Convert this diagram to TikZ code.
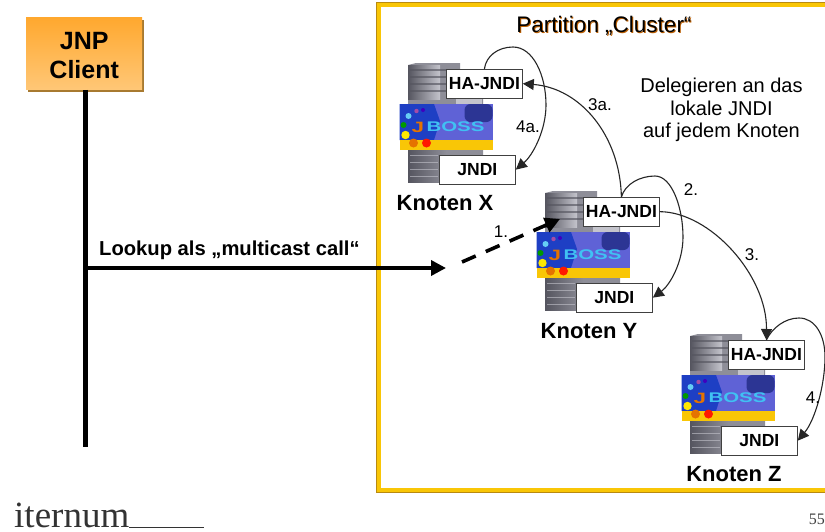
\documentclass[tikz,border=0pt]{standalone}
\usepackage{fontspec}
\usepackage{graphicx}
\setmainfont{Liberation Sans}
\newfontfamily\serifface{Liberation Serif}
\usetikzlibrary{arrows.meta,shadings}
\definecolor{frameyellow}{HTML}{F9C606}
\definecolor{frameedge}{HTML}{B98A10}
\definecolor{logodeep}{HTML}{1E3FC4}
\definecolor{logopurple}{HTML}{5F62D6}
\definecolor{logodark}{HTML}{2C3594}
\definecolor{towerdark}{HTML}{55555F}
\definecolor{towermid}{HTML}{8E8E98}
\definecolor{towerlight}{HTML}{C4C4CC}
\definecolor{clienttop}{HTML}{FFA82E}
\definecolor{clientbottom}{HTML}{FFC777}
\definecolor{clientshadow}{HTML}{A87A30}
\tikzset{
  x=1pt,y=-1pt,
  hostbox/.style={draw=black!75,line width=0.8pt,fill=white,minimum width=76pt,minimum height=28.5pt,inner sep=0pt,font=\fontsize{17.5}{17.5}\selectfont\bfseries},
  hostname/.style={font=\fontsize{22}{22}\selectfont\bfseries,inner sep=0pt},
  steplabel/.style={font=\fontsize{17}{17}\selectfont,inner sep=0pt},
  curvearrow/.style={draw=black!85,line width=1.1pt,-{Triangle[length=11pt,width=11pt]}},
  thick line/.style={line width=5pt,black},
}
% #1 suffix, #2 x and #3 y of the top-left corner of the HA-JNDI box, #4 x offset of the name
\newcommand{\knoten}[4]{%
  \begin{scope}[shift={(#2,#3)}]
    % server tower
    \fill[towermid] (-38,-4) -- (-30,-6) -- (14,-6) -- (14,0) -- (37,29) -- (37,113) -- (-38,113) -- cycle;
    \shade[left color=towerdark,right color=towerlight] (-38,-4) rectangle (-6,30);
    \shade[left color=towerdark,right color=towermid] (-38,80) rectangle (0,113);
    \foreach \yy in {1,8,15,22}{\draw[towerdark,line width=1.2pt,opacity=.65] (-36,\yy) -- (10,\yy);}
    \foreach \yy in {86,93,100,107}{\draw[towerlight,line width=1pt,opacity=.6] (-36,\yy) -- (-8,\yy);}
    \fill[towerlight] (10,29) rectangle (36,35);
    % JBoss logo
    \fill[logopurple] (-46.5,35) rectangle (46.5,71);
    \fill[logodeep] (-46.5,35) -- (-12,35) -- (-6,52) -- (-12,71) -- (-46.5,71) -- cycle;
    \fill[logodark,rounded corners=6pt] (18.5,35) rectangle (46.5,53);
    \fill[frameyellow] (-46.5,71) rectangle (46.5,81);
    \fill[green!60!black] (-42.5,56) circle (3);
    \fill[cyan!60] (-37.5,47) circle (3);
    \fill[violet!70] (-29.5,42) circle (2.2);
    \fill[violet!50!blue] (-23,41) circle (2);
    \fill[yellow!90!orange] (-40.5,66) circle (4.2);
    \fill[orange!90!black] (-32.5,74) circle (4.5);
    \fill[red!80!orange] (-19.5,74) circle (4.5);
    \node[inner sep=0pt,text=orange!90!black,font=\fontsize{15}{15}\selectfont\bfseries] at (-28,58) {\scalebox{1.5}[1]{J}};
    \node[inner sep=0pt,text=cyan!75!white,font=\fontsize{14}{14}\selectfont\bfseries] at (9.5,58) {\scalebox{1.46}[1]{BOSS}};
    % boxes
    \node[hostbox,anchor=north west] (ha#1) at (0,0) {HA-JNDI};
    \node[hostbox,anchor=north west] (jndi#1) at (-7,86) {JNDI};
    \node[hostname] (name#1) at (#4,134) {Knoten #1};
  \end{scope}}
\begin{document}
\begin{tikzpicture}
\useasboundingbox (0,0) rectangle (825,531);
\fill[white] (0,0) rectangle (825,531);
% partition frame
\draw[frameedge,line width=0.8pt] (376.7,2.4) rectangle (827,492.6);
\draw[frameyellow,line width=4.4pt] (379,5) rectangle (827,490);
% client
\fill[clientshadow] (28,19.5) rectangle (144,92);
\node[draw=none,top color=clienttop,bottom color=clientbottom,minimum width=116pt,minimum height=72.5pt,inner sep=0pt,anchor=north west] (client) at (26,17) {};
\node[inner sep=0pt,align=center,font=\fontsize{25}{29}\selectfont\bfseries] (clienttext) at ([yshift=-2.5pt]client.center) {JNP\\Client};
\coordinate (lifelineend) at (85.5,447);
\draw[thick line] (client.south -| lifelineend) -- (lifelineend);
\coordinate (callstart) at (85.5,268);
\coordinate (callmid) at (446,268);
\draw[line width=3.6pt,-{Triangle[length=15pt,width=15pt]}] (callstart) -- (callmid);
\node[anchor=base west,inner sep=0pt,font=\fontsize{20.2}{20.2}\selectfont\bfseries] (lookup) at (99,255) {Lookup als „multicast call“};
% titles
\node[inner sep=0pt,text=orange!75!black,font=\fontsize{22.5}{22.5}\selectfont] at (604.8,26.5) {Partition „Cluster“};
\node[inner sep=0pt,font=\fontsize{22.5}{22.5}\selectfont] (ptitle) at (604,25.5) {Partition „Cluster“};
\node[inner sep=0pt,align=center,font=\fontsize{20}{22.5}\selectfont] (delegate) at (721.5,110) {Delegieren an das\\lokale JNDI\\auf jedem Knoten};
% nodes
\knoten{X}{446}{69}{-1}
\knoten{Y}{583}{197}{6}
\knoten{Z}{728}{340}{6}
% dashed call
\coordinate (dashstart) at (462,262);
\coordinate (dashend) at (560,219);
\draw[line width=3.6pt,dash pattern=on 15pt off 11pt,-{Triangle[length=15pt,width=15pt]}] (dashstart) -- (dashend);
\node[steplabel] at (501,232) {1.};
% curved connectors
\draw[curvearrow] (haX.north) .. controls (486,56) and (498,47) .. (513,47) .. controls (533,47) and (546,75) .. (546,105) .. controls (546,130) and (533,155) .. (jndiX.east);
\draw[curvearrow] (haY.north) .. controls (620,135) and (580,88) .. (haX.east);
\draw[curvearrow] (haY.north) .. controls (625,184) and (640,176) .. (655,176) .. controls (672,176) and (683,208) .. (683,237) .. controls (683,262) and (670,285) .. (jndiY.east);
\draw[curvearrow] (haY.east) .. controls (710,212) and (767,275) .. (haZ.north);
\draw[curvearrow] (haZ.north) .. controls (772,328) and (785,318) .. (799,318) .. controls (815,318) and (825,335) .. (825,357) .. controls (825,385) and (815,420) .. (jndiZ.east);
\node[steplabel] at (600,105) {3a.};
\node[steplabel] at (528,127) {4a.};
\node[steplabel] at (691,190) {2.};
\node[steplabel] at (752,255) {3.};
\node[steplabel] at (813,398) {4.};
% footer
\node[anchor=base west,inner sep=0pt,text=black!80,font=\serifface\fontsize{37}{37}\selectfont] (logo) at (14,527.5) {iternum};
\coordinate (ruleend) at (204,527.5);
\draw[black!80,line width=1.2pt] (logo.base east) -- (ruleend);
\node[anchor=base east,inner sep=0pt,text=black!75,font=\serifface\fontsize{16}{16}\selectfont] (pageno) at (825,524) {55};
\end{tikzpicture}
\end{document}
